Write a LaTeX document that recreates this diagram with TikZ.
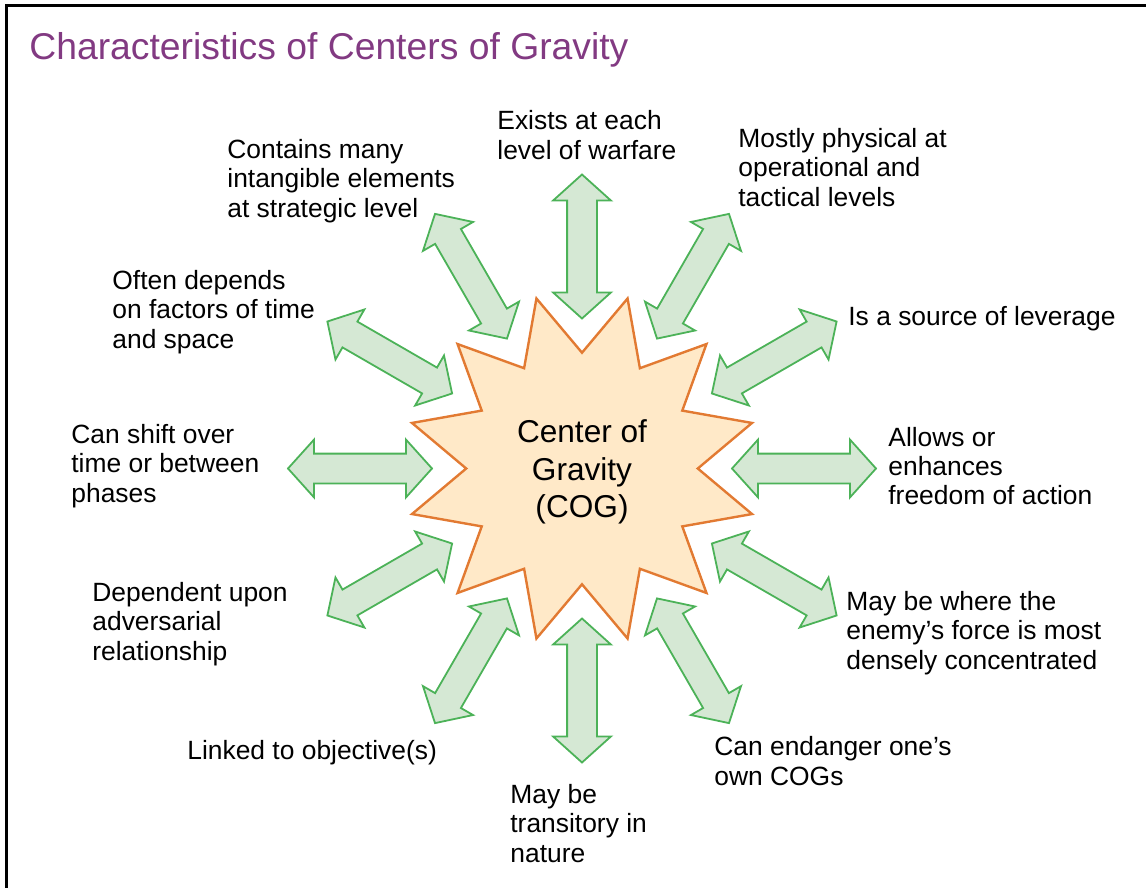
\documentclass[tikz,border=0pt]{standalone}
\usepackage{fontspec}
\setmainfont{Liberation Sans}
\usetikzlibrary{shapes.geometric,shapes.arrows}

\definecolor{titlepurple}{RGB}{130,58,130}
\definecolor{arrowfill}{RGB}{213,232,212}
\definecolor{arrowline}{RGB}{76,178,88}
\definecolor{cogfill}{RGB}{255,233,200}
\definecolor{cogline}{RGB}{226,122,50}

\tikzset{
  cog star/.style={star, star points=12, star point ratio=1.52, minimum size=176pt,
    shape border rotate=15, inner sep=0pt, draw=cogline, fill=cogfill, line width=1.2pt},
  cog text/.style={align=center, inner sep=0pt, font=\fontsize{15.8}{18.7}\selectfont},
  cog arrow/.style={double arrow, double arrow head extend=7pt, double arrow tip angle=96,
    minimum height=72pt, minimum width=28pt, inner xsep=0pt, inner ysep=7pt,
    draw=arrowline, fill=arrowfill, line width=0.9pt},
  trait/.style={anchor=west, align=left, inner sep=0pt, font=\fontsize{13.2}{14.65}\selectfont},
  slide title/.style={anchor=base west, inner sep=0pt, text=titlepurple,
    font=\fontsize{18.65}{22}\selectfont},
}

\begin{document}
\begin{tikzpicture}[x=0.5pt, y=-0.5pt]

	\useasboundingbox (0,0) rectangle (1146,888);

	% frame and title
	\draw[line width=1.5pt] (6,888) -- (6,6) -- (1146,6);
	\node[slide title] (title) at (29,60) {Characteristics of Centers of Gravity};

	% centre of gravity
	\node[cog star] (cog) at (582,468.5) {};
	\node[cog text] (cog-text) at (582,472) {Center of\\Gravity\\(COG)};

	% arrows round the star
	\foreach \a [count=\i] in {90,60,...,-240}
		\node[cog arrow, rotate=\a] (arrow-\i) at ([shift={(\a:111pt)}]cog.center) {};

	% characteristics
	\foreach \x/\y/\l [count=\i] in {
			497/135/{Exists at each\\level of warfare},
			738/167.5/{Mostly physical at\\operational and\\tactical levels},
			848/319/{Is a source of leverage},
			888/466/{Allows or\\enhances\\freedom of action},
			846/633/{May be where the\\enemy’s force is most\\densely concentrated},
			714/761/{Can endanger one’s\\own COGs},
			510/823.5/{May be\\transitory in\\nature},
			187/753/{Linked to objective(s)},
			92/624/{Dependent upon\\adversarial\\relationship},
			71/466/{Can shift over\\time or between\\phases},
			112/312/{Often depends\\on factors of time\\and space},
			227/181/{Contains many\\intangible elements\\at strategic level}}
		\node[trait] (trait-\i) at (\x,\y) {\l};

\end{tikzpicture}
\end{document}
